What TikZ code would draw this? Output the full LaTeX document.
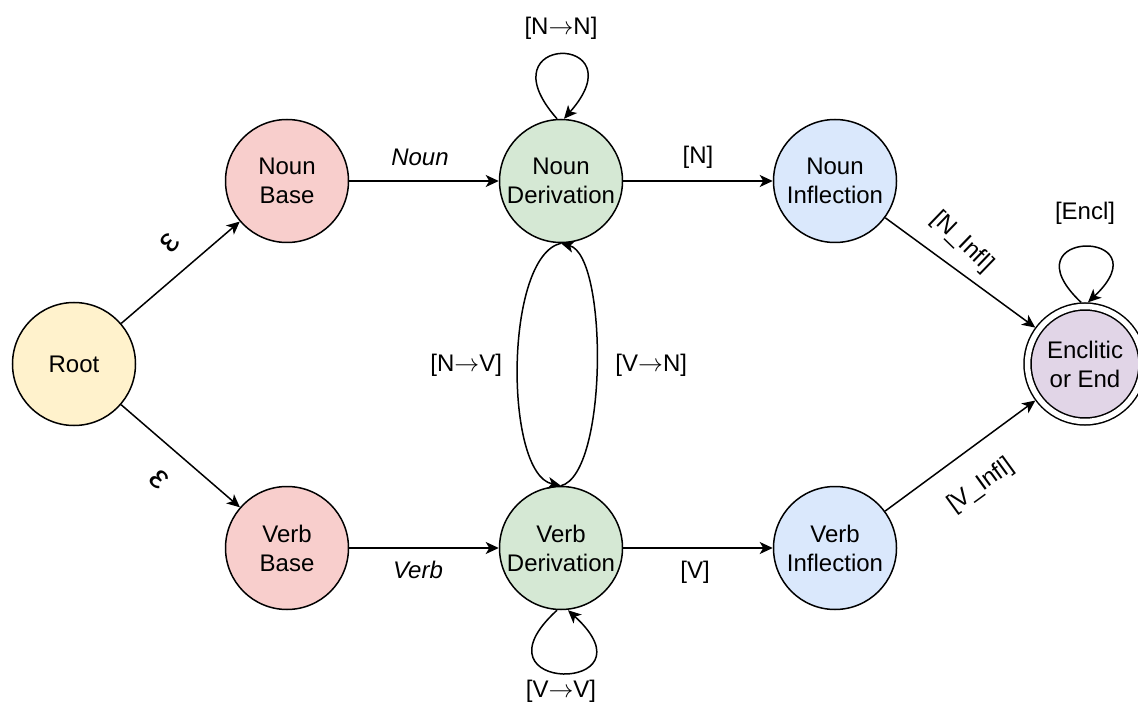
\documentclass[tikz,border=0pt]{standalone}
\usepackage{fontspec}
\setmainfont{Liberation Sans}
\usetikzlibrary{positioning,arrows.meta}

\definecolor{rootfill}{HTML}{FFF2CC}
\definecolor{basefill}{HTML}{F8CECC}
\definecolor{derfill}{HTML}{D5E8D4}
\definecolor{inffill}{HTML}{DAE8FC}
\definecolor{endfill}{HTML}{E1D5E7}

\newcommand{\goesto}{$\rightarrow$}

\begin{document}
\begin{tikzpicture}[x=1pt, y=-1pt, on grid, font=\fontsize{24}{29}\selectfont,
		line width=1.5pt, >={Stealth[length=13pt, width=12pt, inset=3.5pt]},
		st/.style={draw, circle, minimum size=123pt, inner sep=0pt, align=center},
		lbl/.style={inner sep=1pt},
		eps/.style={inner sep=1pt, font=\fontsize{34}{34}\selectfont}]
		\useasboundingbox (0,0) rectangle (1138,711);
		% states
		\node[st, fill=rootfill] (root) at (74,364) {Root};
		\node[st, fill=basefill] (nbase) at (287,181) {Noun\\Base};
		\node[st, fill=basefill, below=367pt of nbase] (vbase) {Verb\\Base};
		\node[st, fill=derfill, right=274pt of nbase] (nder) {Noun\\Derivation};
		\node[st, fill=derfill, right=274pt of vbase] (vder) {Verb\\Derivation};
		\node[st, fill=inffill, right=274pt of nder] (ninf) {Noun\\Inflection};
		\node[st, fill=inffill, right=274pt of vder] (vinf) {Verb\\Inflection};
		\node[st, fill=endfill, minimum size=115pt, double, double distance=5.5pt, outer sep=4.2pt] (end) at (1085,364) {Enclitic\\or End};
		% transitions
		\draw[->] (root) -- (nbase);
		\node[eps, rotate=48] (eps1) at (170,243) {ε};
		\draw[->] (root) -- (vbase);
		\node[eps, rotate=-45] (eps2) at (159,480) {ε};
		\draw[->] (nbase) -- node[lbl, midway, xshift=-4pt, yshift=24pt, font=\fontsize{24}{29}\selectfont\itshape] (lnoun) {Noun} (nder);
		\draw[->] (vbase) -- node[lbl, midway, xshift=-6pt, yshift=-22pt, font=\fontsize{24}{29}\selectfont\itshape] (lverb) {Verb} (vder);
		\draw[->] (nder) -- node[lbl, midway, yshift=24pt] (ln) {[N]} (ninf);
		\draw[->] (vder) -- node[lbl, midway, xshift=-3pt, yshift=-24pt] (lv) {[V]} (vinf);
		\draw[->] (nder.south) .. controls +(-57,13) and +(-57,-12) .. (vder.north)
			node[lbl, midway, xshift=-52pt] (lnv) {[N\goesto V]};
		\draw[->] (vder.north) .. controls +(47,-12) and +(47,13) .. (nder.south)
			node[lbl, midway, xshift=55pt] (lvn) {[V\goesto N]};
		\draw[->] (ninf) -- (end);
		\node[lbl, rotate=-44] (lninf) at (962,242) {[N\_Infl]};
		\draw[->] (vinf) -- (end);
		\node[lbl, rotate=36] (lvinf) at (981,486) {[V\_Infl]};
		% self loops
		\draw[->] ([xshift=-4pt]nder.north) .. controls +(-76,-86) and +(76,-86) .. ([xshift=3pt]nder.north);
		\node[lbl] (lnn) at ([yshift=90pt]nder.north) {[N\goesto N]};
		\draw[->] ([xshift=-4pt]vder.south) .. controls +(-92,84) and +(92,84) .. ([xshift=7pt]vder.south);
		\node[lbl] (lvv) at ([yshift=-81pt]vder.south) {[V\goesto V]};
		\draw[->] ([xshift=-4pt]end.north) .. controls +(-78,-74) and +(78,-74) .. ([xshift=3pt]end.north);
		\node[lbl] (lencl) at ([yshift=89pt]end.north) {[Encl]};
	\end{tikzpicture}
\end{document}
